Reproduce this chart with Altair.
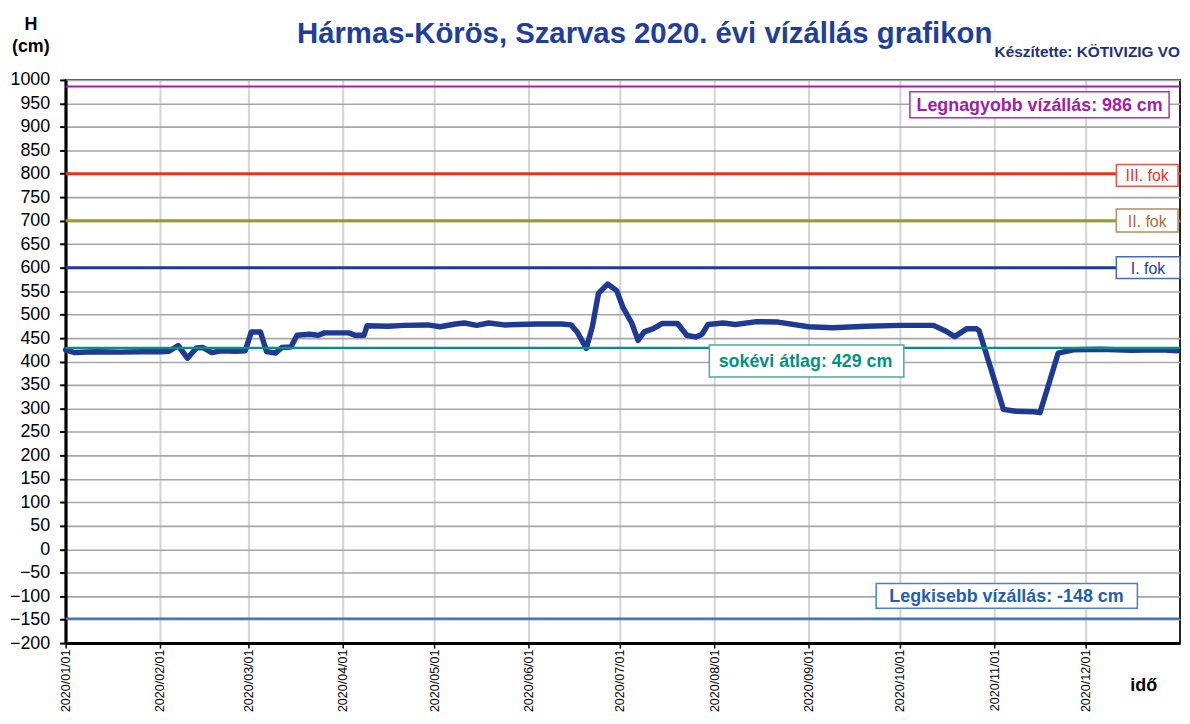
import altair as alt
import pandas as pd

# ---- water level series ----
dates = [
    "2020-01-01", "2020-01-04", "2020-01-11", "2020-01-19", "2020-01-26", "2020-02-01",
    "2020-02-04", "2020-02-07", "2020-02-10", "2020-02-13", "2020-02-15", "2020-02-18",
    "2020-02-21", "2020-02-26", "2020-02-29", "2020-03-02", "2020-03-05", "2020-03-07",
    "2020-03-10", "2020-03-12", "2020-03-15", "2020-03-17", "2020-03-21", "2020-03-24",
    "2020-03-26", "2020-04-03", "2020-04-05", "2020-04-08", "2020-04-09", "2020-04-16",
    "2020-04-21", "2020-04-29", "2020-05-03", "2020-05-08", "2020-05-11", "2020-05-15",
    "2020-05-19", "2020-05-24", "2020-06-04", "2020-06-12", "2020-06-15", "2020-06-17",
    "2020-06-20", "2020-06-22", "2020-06-24", "2020-06-27", "2020-06-30", "2020-07-02",
    "2020-07-05", "2020-07-07", "2020-07-09", "2020-07-12", "2020-07-15", "2020-07-20",
    "2020-07-23", "2020-07-26", "2020-07-28", "2020-07-30", "2020-08-04", "2020-08-08",
    "2020-08-15", "2020-08-22", "2020-09-01", "2020-09-09", "2020-09-20", "2020-10-01",
    "2020-10-12", "2020-10-16", "2020-10-19", "2020-10-23", "2020-10-26", "2020-10-27",
    "2020-11-04", "2020-11-08", "2020-11-14", "2020-11-16", "2020-11-18", "2020-11-22",
    "2020-11-27", "2020-12-06", "2020-12-16", "2020-12-26", "2020-12-31",
]
levels = [
    425, 419, 421, 420, 421, 421,
    422, 434, 407, 429, 430, 419,
    423, 422, 423, 463, 463, 421,
    418, 430, 431, 456, 458, 456,
    461, 461, 456, 456, 476, 475,
    477, 478, 474, 480, 482, 477,
    482, 478, 480, 480, 478, 463,
    428, 474, 545, 565, 551, 516,
    481, 445, 463, 470, 481, 481,
    456, 452, 458, 479, 482, 479,
    485, 484, 474, 472, 475, 477,
    477, 465, 453, 470, 470, 466,
    298, 294, 293, 291, 333, 418,
    425, 426, 424, 425, 423,
]

# ---- reference levels ----
ref_values = [986, 800, 700, 600, -148]
ref_colors = ["#a020b0", "#e8341e", "#9a9a24", "#1f3a93", "#3a70c0"]
ref_widths = [2.2, 3, 3, 3, 2.2]
mean_value = [429]

# ---- labelled boxes ----
box_text = ["Legnagyobb vízállás: 986 cm", "III. fok", "II. fok", "I. fok",
            "sokévi átlag: 429 cm", "Legkisebb vízállás: -148 cm"]
box_x1 = ["2020-10-04T07:00", "2020-12-11T02:00", "2020-12-11T02:00", "2020-12-11T02:00",
          "2020-07-30T10:00", "2020-09-23T05:00"]
box_x2 = ["2020-12-28T10:00", "2020-12-31T08:00", "2020-12-31T08:00", "2020-12-31T23:00",
          "2020-10-02T07:00", "2020-12-18T00:00"]
box_y1 = [974.6, 820, 725, 623, 435, -73]
box_y2 = [919.6, 773.5, 676, 577, 367, -126]
text_x = ["2020-11-15T21:00", "2020-12-21T05:00", "2020-12-21T05:00", "2020-12-21T12:00",
          "2020-08-31T00:00", "2020-11-05T00:00"]
text_y = [947, 797, 700, 600, 401, -99.5]
text_color = ["#a020a8", "#e8321e", "#a86c3c", "#2040a0", "#009384", "#2060b0"]
border_color = ["#a830b8", "#e85545", "#b88a60", "#4a68b8", "#45aaa2", "#4a80c8"]
text_bold = [True, False, False, False, True, True]

month_ticks = [alt.DateTime(year=2020, month=m, date=1) for m in range(1, 13)]
y_ticks = list(range(-200, 1001, 50))

FONT = "Liberation Sans"

series = pd.DataFrame({"date": [d + "T00:00:00" for d in dates], "level": levels})
refs = pd.DataFrame({"value": ref_values, "color": ref_colors, "w": ref_widths})
mean_df = pd.DataFrame({"value": mean_value})
boxes = pd.DataFrame({
    "label": box_text, "x1": box_x1, "x2": box_x2, "y1": box_y1, "y2": box_y2,
    "tx": text_x, "ty": text_y, "tcolor": text_color, "bcolor": border_color, "bold": text_bold,
})

x_scale = alt.Scale(domain=[alt.DateTime(year=2020, month=1, date=1),
                            alt.DateTime(year=2021, month=1, date=1)], nice=False)
y_scale = alt.Scale(domain=[-200, 1000], nice=False, zero=False)

x_axis = alt.Axis(values=month_ticks, format="%Y/%m/%d", labelAngle=270, title=None,
                  labelFontSize=12.6, labelFont=FONT, labelColor="#000",
                  gridColor="#d4d4d4", gridWidth=2, tickColor="#000", tickWidth=1.5,
                  tickSize=5, labelPadding=1, domainColor="#000", domainWidth=3,
                  labelAlign="right", labelBaseline="middle", labelOverlap=False)
y_axis = alt.Axis(values=y_ticks, format="d", title=None, labelFontSize=18,
                  labelFont=FONT, labelColor="#000", gridColor="#a6a6a6", gridWidth=1.6,
                  tickColor="#000", tickWidth=2, tickSize=6, labelPadding=10,
                  domainColor="#000", domainWidth=3, labelOverlap=False,
                  labelFlush=False)

X = lambda f: alt.X(f, scale=x_scale, axis=x_axis)
Y = lambda f: alt.Y(f, scale=y_scale, axis=y_axis)

base_line = alt.Chart(series).mark_line(
    color="#1f3a93", strokeWidth=5.5, strokeCap="round", strokeJoin="round"
).encode(x=X("date:T"), y=Y("level:Q"))

ref_rules = alt.Chart(refs).mark_rule().encode(
    y=Y("value:Q"),
    color=alt.Color("color:N", scale=None),
    strokeWidth=alt.StrokeWidth("w:Q", scale=None),
)

mean_rule = alt.Chart(mean_df).mark_rule(color="#00928a", strokeWidth=2.2).encode(
    y=Y("value:Q"),
)

box_rects = alt.Chart(boxes).mark_rect(fill="white", strokeWidth=1.5).encode(
    x=X("x1:T"), x2="x2:T", y=Y("y1:Q"), y2="y2:Q",
    stroke=alt.Stroke("bcolor:N", scale=None),
)

box_text_bold = alt.Chart(boxes).transform_filter("datum.bold").mark_text(
    font=FONT, fontSize=18, fontWeight="bold", align="center", baseline="middle", dy=1
).encode(x=X("tx:T"), y=Y("ty:Q"), text="label:N", color=alt.Color("tcolor:N", scale=None))

box_text_norm = alt.Chart(boxes).transform_filter("!datum.bold").mark_text(
    font=FONT, fontSize=16, align="center", baseline="middle", dy=1
).encode(x=X("tx:T"), y=Y("ty:Q"), text="label:N", color=alt.Color("tcolor:N", scale=None))


def free_text(txt, x, y, size, color, align="center", bold=True):
    return alt.Chart(pd.DataFrame({"t": [txt]})).mark_text(
        font=FONT, fontSize=size, fontWeight="bold" if bold else "normal",
        align=align, baseline="alphabetic", color=color
    ).encode(text="t:N", x=alt.value(x), y=alt.value(y))


title = free_text("Hármas-Körös, Szarvas 2020. évi vízállás grafikon", 583, -37, 29.5, "#213e99")
author = free_text("Készítette: KÖTIVIZIG VO", 1122, -23, 15.5, "#1f2f80", align="right")
h_lab = free_text("H", -35, -50, 18, "#000")
cm_lab = free_text("(cm)", -35, -28, 18, "#000")
ido_lab = free_text("idő", 1072, 615, 18, "#000", align="left")

chart = alt.layer(
    ref_rules, base_line, mean_rule, box_rects, box_text_bold, box_text_norm,
    title, author, h_lab, cm_lab, ido_lab,
).properties(
    width=1122, height=567,
    autosize=alt.AutoSizeParams(type="none"),
    padding={"left": 58, "top": 70, "right": 2, "bottom": 71},
    background="white",
).configure_view(
    stroke="#222", strokeWidth=2
)

chart.save("out.html", embed_options={"renderer": "svg", "actions": False})
